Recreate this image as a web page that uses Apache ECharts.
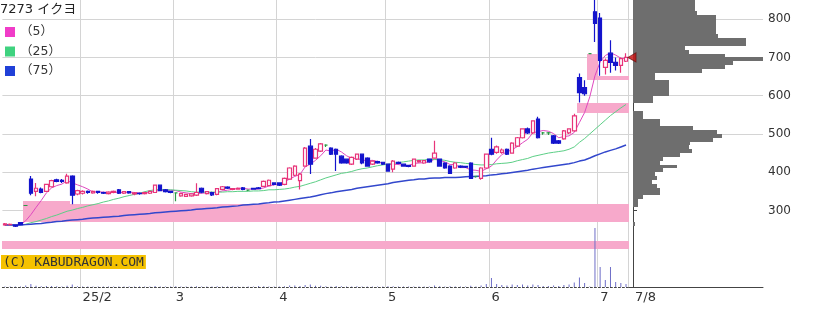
<!DOCTYPE html>
<html><head><meta charset="utf-8">
<script src="https://cdn.jsdelivr.net/npm/echarts@6/dist/echarts.min.js"></script>
<style>html,body{margin:0;padding:0;background:#fff}#c{width:817px;height:309px}</style>
</head><body><div id="c"></div>
<script>
// ---- data ----
const days = [
 '2025-01-10','2025-01-14','2025-01-15','2025-01-16','2025-01-17','2025-01-20','2025-01-21','2025-01-22','2025-01-23','2025-01-24','2025-01-27','2025-01-28','2025-01-29','2025-01-30','2025-01-31',
 '2025-02-03','2025-02-04','2025-02-05','2025-02-06','2025-02-07','2025-02-10','2025-02-12','2025-02-13','2025-02-14','2025-02-17','2025-02-18','2025-02-19','2025-02-20','2025-02-21','2025-02-25','2025-02-26','2025-02-27','2025-02-28',
 '2025-03-03','2025-03-04','2025-03-05','2025-03-06','2025-03-07','2025-03-10','2025-03-11','2025-03-12','2025-03-13','2025-03-14','2025-03-17','2025-03-18','2025-03-19','2025-03-21','2025-03-24','2025-03-25','2025-03-26','2025-03-27','2025-03-28','2025-03-31',
 '2025-04-01','2025-04-02','2025-04-03','2025-04-04','2025-04-07','2025-04-08','2025-04-09','2025-04-10','2025-04-11','2025-04-14','2025-04-15','2025-04-16','2025-04-17','2025-04-18','2025-04-21','2025-04-22','2025-04-23','2025-04-24','2025-04-25','2025-04-28','2025-04-30',
 '2025-05-01','2025-05-02','2025-05-07','2025-05-08','2025-05-09','2025-05-12','2025-05-13','2025-05-14','2025-05-15','2025-05-16','2025-05-19','2025-05-20','2025-05-21','2025-05-22','2025-05-23','2025-05-26','2025-05-27','2025-05-28','2025-05-29','2025-05-30',
 '2025-06-02','2025-06-03','2025-06-04','2025-06-05','2025-06-06','2025-06-09','2025-06-10','2025-06-11','2025-06-12','2025-06-13','2025-06-16','2025-06-17','2025-06-18','2025-06-19','2025-06-20','2025-06-23','2025-06-24','2025-06-25','2025-06-26','2025-06-27','2025-06-30',
 '2025-07-01','2025-07-02','2025-07-03','2025-07-04','2025-07-07','2025-07-08'
];
// [open, close, low, high]
const ohlc = [
 [262,265,260,267],[263,264,261,266],[262,259,257,263],[268,263,262,270],[313,313,313,313],[382,345,340,390],[350,358,337,372],[356,347,345,360],[350,368,348,370],[362,378,360,380],
 [380,376,374,383],[379,376,372,382],[372,390,370,396],[390,340,316,392],[343,352,340,354],
 [345,350,342,353],[350,347,344,352],[346,350,344,352],[350,347,344,351],[347,345,343,349],[344,348,342,350],[347,350,345,352],[354,345,343,356],[345,349,343,351],[349,346,344,350],
 [343,346,340,348],[345,344,341,347],[344,347,342,349],[345,350,343,352],[347,366,346,368],[366,352,350,368],[354,349,347,356],[350,347,345,351],
 [346,346,324,347],[338,344,336,346],[337,342,335,344],[338,343,336,345],[340,347,338,371],[358,348,345,360],[344,349,342,351],[347,341,338,349],[342,357,340,359],[355,362,353,364],
 [361,358,356,363],[355,357,353,359],[356,358,354,360],[359,355,353,361],[353,353,351,355],[358,356,354,359],[359,357,356,361],[363,376,361,378],[365,379,363,381],[372,368,366,374],
 [372,366,364,374],[368,384,366,386],[382,411,380,413],[392,416,390,418],[378,395,355,398],[416,463,414,466],[468,421,395,487],[437,460,435,463],[455,474,453,476],[471,471,466,473],
 [463,447,445,465],[460,447,403,462],[442,424,422,444],[434,424,422,436],[421,439,419,441],[434,447,432,449],[447,424,421,449],[437,416,414,439],[421,429,419,431],[428,424,422,430],[426,421,419,427],
 [421,403,401,423],[408,429,400,432],[426,423,421,428],[421,416,414,423],[418,415,413,419],[416,434,414,436],[427,430,425,432],[424,430,422,432],[434,427,425,436],[437,450,435,482],
 [434,416,414,436],[424,411,409,426],[416,397,395,418],[411,424,409,426],[416,413,411,418],[415,413,411,417],[424,384,382,426],[389,389,386,391],[384,411,380,413],[411,447,409,449],
 [460,447,444,490],[452,466,448,470],[452,458,448,462],[460,447,445,462],[450,476,448,478],[468,490,466,492],[490,513,488,515],[513,503,500,517],[503,534,500,536],[539,490,488,545],
 [503,503,498,505],[503,503,497,505],[495,476,474,497],[482,476,474,484],[487,508,485,510],[503,513,500,515],[508,547,506,553],[647,608,582,658],[621,605,600,640],[710,710,710,710],[819,789,740,850],
 [803,692,652,816],[674,692,655,697],[711,687,660,745],[687,679,666,700],[679,697,660,700],[690,700,688,711]
];
const volume = [
 5,4,5,6,15,30,12,8,10,10,8,6,12,25,8,
 6,5,5,4,5,5,4,6,5,4,5,5,4,6,10,6,5,4,
 8,5,4,4,8,6,4,5,8,6,5,4,4,3,4,4,10,8,6,5,
 5,8,15,14,10,20,25,12,12,8,6,10,8,6,6,8,6,6,5,5,5,
 8,8,5,5,4,6,5,5,6,15,8,6,8,6,5,5,12,6,15,30,
 90,30,20,15,25,20,25,15,25,20,10,10,15,10,20,25,45,95,40,5,590,
 200,70,200,50,40,30
];
const ma5 = [
 263,263,262,263,273,289,308,326,346,359,365,369,378,372,367,362,356,348,349,348,
 347,348,347,347,348,347,346,346,347,351,352,353,353,352,348,346,344,344,345,346,
 346,348,351,353,355,358,358,356,356,356,359,364,367,369,375,382,389,394,414,421,
 431,443,458,455,460,453,443,436,436,432,430,431,428,423,419,421,420,418,417,423,
 424,425,427,434,431,427,420,420,412,412,406,405,402,409,416,432,446,453,459,467,
 477,486,503,506,509,507,501,490,493,495,504,530,556,597,652,688,705,712,706,698,697
];
const ma25 = [
 262,262,262,262,264,268,271,275,279,284,288,293,298,301,305,308,312,315,318,322,
 325,329,332,336,339,342,345,349,352,354,355,354,354,353,352,351,349,348,348,348,
 348,348,348,349,349,350,350,350,351,351,352,354,354,355,356,358,361,363,367,371,
 375,380,385,389,393,397,399,402,406,409,411,414,417,419,421,423,425,427,429,431,
 432,432,434,433,433,431,428,426,425,423,422,420,419,419,420,422,423,424,426,430,
 433,436,441,444,447,450,452,454,456,460,466,478,488,500,512,524,536,548,558,568,577
];
const ma75 = [
 262,262,262,262,263,264,265,266,268,269,271,272,274,275,276,277,279,280,281,282,
 283,284,285,287,288,289,290,291,292,294,295,296,297,298,299,300,301,303,304,305,
 306,307,309,310,311,312,314,315,316,317,319,320,322,323,325,327,329,331,333,335,
 338,341,344,346,349,351,353,355,358,360,362,364,366,368,370,373,375,377,379,380,
 382,382,384,385,385,386,386,386,387,388,389,389,390,391,393,394,396,397,399,401,
 403,405,408,410,412,414,416,418,420,422,425,429,432,437,443,448,453,457,461,466,471
];
// unfilled price gaps (窓)
const gapStart = ['2025-01-10','2025-01-17','2025-01-30','2025-06-25','2025-06-27','2025-07-01'];
const gapEnd   = ['2025-07-08','2025-01-29','2025-07-08','2025-07-08','2025-06-30','2025-07-08'];
const gapLow   = [200,271,271,555,640,640];
const gapHigh  = [221,326,316,582,710,652];
// price-by-volume profile (10-yen bins, lower bound)
const profilePrices = [840,830,820,810,800,790,780,770,760,750,740,730,720,710,700,690,680,670,660,650,640,630,620,610,600,590,580,570,560,550,540,530,520,510,500,490,480,470,460,450,440,430,420,410,400,390,380,370,360,350,340,330,320,310,260];
const profileVolumes = [62,62,62,64,83,83,83,83,83,85,113,113,52,56,92,130,100,92,69,22,22,36,36,36,36,20,20,0,0,10,10,27,27,60,84,89,80,57,56,59,47,30,27,44,30,22,24,19,24,27,27,10,5,5,2];
const profileBin = 10;
const priceTicks = [300,400,500,600,700,800];
const tickDates = ['2025-02-03','2025-03-03','2025-04-01','2025-05-01','2025-06-02','2025-07-01','2025-07-08'];
const tickTexts = ['25/2','3','4','5','6','7','7/8'];
const seriesNames = ['（5）','（25）','（75）'];

// ---- chart ----
const chart = echarts.init(document.getElementById('c'), null, {renderer:'canvas'});
const FONT = '"DejaVu Sans", "Noto Sans CJK JP", sans-serif';
const NONE = 'rgba(0,0,0,0)';
const GRIDC = '#d4d4d4';
const splitColors = [NONE, NONE, GRIDC, GRIDC, GRIDC, GRIDC, GRIDC, GRIDC, NONE];
const tickIdx = tickDates.map(d => days.indexOf(d));
const monthIdx = new Set(tickIdx.slice(0, -1));
const lastIdx = days.length - 1;

const gapData = gapStart.map((s, i) => [days.indexOf(s), days.indexOf(gapEnd[i]), gapLow[i], gapHigh[i]]);
const profileData = profilePrices.map((p, i) => [p, profileVolumes[i]]);
const lastClose = ohlc[lastIdx][1];

chart.setOption({
  animation: false,
  backgroundColor: '#fff',
  title: {text: '7273 イクヨ', left: 0, top: 3, padding: 0,
    textStyle: {fontSize: 13, fontWeight: 'normal', color: '#222', fontFamily: FONT}},
  legend: {data: seriesNames, orient: 'vertical', left: 0, top: 20, icon: 'rect',
    itemWidth: 10, itemHeight: 10, itemGap: 5.5, selectedMode: false,
    textStyle: {fontSize: 12.5, color: '#333', fontFamily: FONT, lineHeight: 14}},
  graphic: [{type: 'text', left: 1, top: 255, z: 100,
    style: {text: '(C) KABUDRAGON.COM', font: '13px "DejaVu Sans Mono", monospace', fill: '#333',
      backgroundColor: '#f5c200', padding: [1, 2, 0, 2]}}],
  grid: [
    {left: 2.4, right: 188.4, top: 0, bottom: 22},
    {left: 629, right: 54, top: 0, bottom: 22}
  ],
  xAxis: [
    {type: 'category', gridIndex: 0, data: days, boundaryGap: true,
      axisLine: {lineStyle: {color: '#444', type: [2, 2]}},
      axisTick: {show: false},
      axisLabel: {interval: (i) => tickIdx.includes(i), align: 'left', margin: 4,
        color: '#333', fontSize: 13, fontFamily: FONT,
        formatter: (v, i) => { const k = tickIdx.indexOf(i); if (k < 0) return ''; return i === lastIdx ? '{e|' + tickTexts[k] + '}' : tickTexts[k]; },
        rich: {e: {padding: [0, 0, 0, 9], fontSize: 13, color: '#333', fontFamily: FONT}}},
      splitLine: {show: true, interval: (i) => monthIdx.has(i), lineStyle: {color: GRIDC}}},
    {type: 'value', gridIndex: 1, min: -4, max: 130,
      axisLine: {show: true, onZero: false, lineStyle: {color: '#444'}},
      axisTick: {show: false}, axisLabel: {show: false}, splitLine: {show: false}}
  ],
  yAxis: [
    {type: 'value', gridIndex: 0, min: 100, max: 850, interval: 100,
      axisLine: {show: false}, axisTick: {show: false}, axisLabel: {show: false},
      splitLine: {show: true, lineStyle: {color: splitColors}}},
    {type: 'value', gridIndex: 0, min: 0, max: 2870, show: false, splitLine: {show: false}},
    {type: 'value', gridIndex: 1, position: 'right', min: 100, max: 850, interval: 100,
      axisLine: {show: true, lineStyle: {color: '#444'}},
      axisTick: {show: true, length: 4, customValues: priceTicks, lineStyle: {color: '#444'}},
      axisLabel: {customValues: priceTicks, color: '#333', fontSize: 12, margin: 5, fontFamily: FONT,
        formatter: (v) => priceTicks.includes(v) ? String(v) : ''},
      splitLine: {show: true, lineStyle: {color: splitColors}}}
  ],
  series: [
    {type: 'custom', name: 'gaps', xAxisIndex: 0, yAxisIndex: 0, z: 1, silent: true,
      data: gapData, encode: {x: [0, 1], y: [2, 3]},
      renderItem: (params, api) => {
        const bw = api.size([1, 0])[0];
        const a = api.coord([api.value(0), api.value(3)]);
        const b = api.coord([api.value(1), api.value(2)]);
        const x1 = Math.round(a[0] - bw / 2), x2 = Math.round(b[0] + bw / 2);
        const y1 = Math.round(a[1]), y2 = Math.round(b[1]);
        return {type: 'rect', shape: {x: x1, y: y1, width: x2 - x1, height: y2 - y1},
          style: {fill: '#f7a9cb'}};
      }},
    {type: 'bar', name: 'vol', xAxisIndex: 0, yAxisIndex: 1, data: volume, barWidth: 1, z: 2,
      itemStyle: {color: '#6e6ec8'}, silent: true},
    {type: 'line', name: seriesNames[0], xAxisIndex: 0, yAxisIndex: 0, data: ma5, symbol: 'none', z: 3,
      color: '#f03cc8', lineStyle: {color: '#e048c0', width: 1}},
    {type: 'line', name: seriesNames[1], xAxisIndex: 0, yAxisIndex: 0, data: ma25, symbol: 'none', z: 3,
      color: '#3fd27f', lineStyle: {color: '#5ccf86', width: 1}},
    {type: 'line', name: seriesNames[2], xAxisIndex: 0, yAxisIndex: 0, data: ma75, symbol: 'none', z: 3,
      color: '#2040d8', lineStyle: {color: '#3247cc', width: 1.5}},
    {type: 'candlestick', name: 'price', xAxisIndex: 0, yAxisIndex: 0, data: ohlc, barWidth: 4, z: 4,
      itemStyle: {color: '#ffffff', color0: '#1414cc', borderColor: '#e8357a', borderColor0: '#1414cc',
        borderColorDoji: '#2a9a45', borderWidth: 1.2}},
    {type: 'custom', name: 'profile', xAxisIndex: 1, yAxisIndex: 2, z: 2, silent: true,
      data: profileData, encode: {x: 1, y: 0},
      renderItem: (params, api) => {
        const a = api.coord([0, api.value(0) + profileBin]);
        const b = api.coord([api.value(1), api.value(0)]);
        const y1 = Math.round(a[1]), y2 = Math.round(b[1]);
        const x1 = Math.round(a[0]), x2 = Math.round(b[0]);
        return {type: 'rect', shape: {x: x1, y: y1, width: x2 - x1, height: y2 - y1},
          style: {fill: '#6e6e6e'}};
      }},
    {type: 'scatter', name: 'last', xAxisIndex: 1, yAxisIndex: 2, z: 5, silent: true,
      data: [[-1, lastClose]], symbol: 'triangle', symbolSize: [9, 8], symbolRotate: 90,
      itemStyle: {color: '#cc1010', borderColor: '#701010', borderWidth: 1}}
  ]
});
</script>
</body></html>
